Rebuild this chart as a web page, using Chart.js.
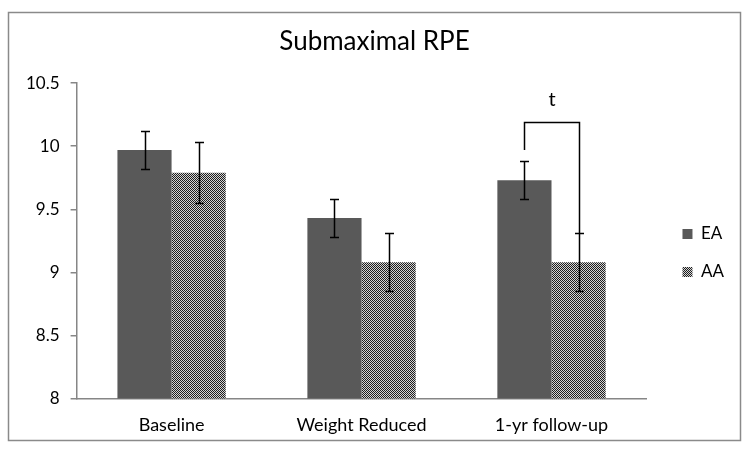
<!DOCTYPE html>
<html>
<head>
<meta charset="utf-8">
<script src="https://cdn.jsdelivr.net/npm/chart.js@4"></script>
<style>
  body { margin: 0; background: #fff; }
  #wrap { width: 749px; height: 455px; }
</style>
</head>
<body>
<div id="wrap"><canvas id="rpeChart" width="749" height="455"></canvas></div>
<script>
// data
const categories = ['Baseline', 'Weight Reduced', '1-yr follow-up'];
const seriesNames = ['EA', 'AA'];
const eaValues = [9.97, 9.43, 9.73];
const eaErrors = [0.15, 0.15, 0.15];
const aaValues = [9.79, 9.08, 9.08];
const aaErrors = [0.24, 0.23, 0.23];
const yTicks = [8, 8.5, 9, 9.5, 10, 10.5];

// bracket over the 1-yr follow-up pair
const bracketIndex = 2;
const bracketTop = 10.19;
const bracketLeftEnd = 9.97;
const bracketLabel = 't';

// checkered fill for AA
function makeChecker() {
  const pc = document.createElement('canvas');
  pc.width = 2; pc.height = 2;
  const c = pc.getContext('2d');
  c.fillStyle = '#d4d4d4';
  c.fillRect(0, 0, 2, 2);
  c.fillStyle = '#1e1e1e';
  c.fillRect(0, 0, 1, 1);
  c.fillRect(1, 1, 1, 1);
  return c.createPattern(pc, 'repeat');
}
const checker = makeChecker();

const FONT = "Lato, 'Open Sans', sans-serif";
const LEGEND_GAP = 15; // empty space between plot and legend
const LEGEND_DY = 18;  // legend sits a bit below the plot middle

const errorBars = {
  id: 'errorBars',
  afterDatasetsDraw(chart) {
    const { ctx, scales: { y } } = chart;
    const errs = [eaErrors, aaErrors];
    const vals = [eaValues, aaValues];
    ctx.save();
    ctx.strokeStyle = '#000';
    ctx.lineWidth = 1.5;
    chart.data.datasets.forEach((ds, di) => {
      const meta = chart.getDatasetMeta(di);
      meta.data.forEach((bar, i) => {
        const hi = Math.round(y.getPixelForValue(vals[di][i] + errs[di][i])) + 0.5;
        const lo = Math.round(y.getPixelForValue(vals[di][i] - errs[di][i])) + 0.5;
        const x = Math.round(bar.x) + 0.5;
        ctx.beginPath();
        ctx.moveTo(x, hi); ctx.lineTo(x, lo);
        ctx.moveTo(x - 4.5, hi); ctx.lineTo(x + 4.5, hi);
        ctx.moveTo(x - 4.5, lo); ctx.lineTo(x + 4.5, lo);
        ctx.stroke();
      });
    });
    ctx.restore();
  }
};

const bracket = {
  id: 'bracket',
  afterDatasetsDraw(chart) {
    const { ctx, scales: { y } } = chart;
    const x1 = Math.round(chart.getDatasetMeta(0).data[bracketIndex].x) + 0.5;
    const x2 = Math.round(chart.getDatasetMeta(1).data[bracketIndex].x) + 0.5;
    const top = Math.round(y.getPixelForValue(bracketTop)) + 0.5;
    const leftEnd = y.getPixelForValue(bracketLeftEnd);
    const rightEnd = y.getPixelForValue(aaValues[bracketIndex] + aaErrors[bracketIndex]);
    ctx.save();
    ctx.strokeStyle = '#000';
    ctx.lineWidth = 1.5;
    ctx.beginPath();
    ctx.moveTo(x1, leftEnd);
    ctx.lineTo(x1, top);
    ctx.lineTo(x2, top);
    ctx.lineTo(x2, rightEnd);
    ctx.stroke();
    ctx.fillStyle = '#000';
    ctx.font = '20px ' + FONT;
    ctx.textAlign = 'center';
    ctx.textBaseline = 'middle';
    ctx.fillText(bracketLabel, (x1 + x2) / 2, top - 23);
    ctx.restore();
  }
};

const frame = {
  id: 'frame',
  beforeDraw(chart) {
    const { ctx } = chart;
    ctx.save();
    ctx.fillStyle = '#fff';
    ctx.fillRect(0, 0, chart.width, chart.height);
    ctx.strokeStyle = '#8a8a8a';
    ctx.lineWidth = 1.5;
    ctx.strokeRect(8.5, 12.5, 732, 428);
    ctx.restore();
  }
};

// push the legend away from the plot, like the Excel layout
const legendGap = {
  id: 'legendGap',
  beforeInit(chart) {
    const fit = chart.legend.fit;
    chart.legend.fit = function () {
      fit.call(this);
      this.width += LEGEND_GAP;
    };
  },
  afterLayout(chart) {
    chart.legend.left += LEGEND_GAP;
    chart.legend.right += LEGEND_GAP;
    chart.legend.top += LEGEND_DY;
    chart.legend.bottom += LEGEND_DY;
  }
};

new Chart(document.getElementById('rpeChart').getContext('2d'), {
  type: 'bar',
  data: {
    labels: categories,
    datasets: [
      { label: seriesNames[0], data: eaValues, backgroundColor: '#595959', borderWidth: 0 },
      { label: seriesNames[1], data: aaValues, backgroundColor: checker, borderWidth: 0 }
    ]
  },
  options: {
    responsive: false,
    animation: false,
    events: [],
    categoryPercentage: 0.57,
    barPercentage: 1.0,
    layout: { padding: { top: 26, left: 15, right: 15, bottom: 11 } },
    plugins: {
      title: {
        display: true,
        text: 'Submaximal RPE',
        color: '#000',
        font: { family: FONT, size: 26, weight: 'normal' },
        padding: { top: 0, bottom: 26 }
      },
      legend: {
        position: 'right',
        align: 'center',
        labels: {
          color: '#000',
          font: { family: FONT, size: 17 },
          boxWidth: 10,
          boxHeight: 10,
          padding: 21
        }
      },
      tooltip: { enabled: false }
    },
    scales: {
      x: {
        grid: { display: false },
        border: { display: true, color: '#868686', width: 1.5 },
        ticks: { color: '#000', font: { family: FONT, size: 18 }, padding: 8 }
      },
      y: {
        min: 8,
        max: 10.5,
        afterBuildTicks: (axis) => { axis.ticks = yTicks.map(v => ({ value: v })); },
        grid: { display: true, drawOnChartArea: false, drawTicks: true, tickLength: 6, color: '#868686', lineWidth: 1.5 },
        border: { display: true, color: '#868686', width: 1.5 },
        ticks: { color: '#000', font: { family: FONT, size: 17 }, padding: 11, callback: (v) => String(v) }
      }
    }
  },
  plugins: [frame, legendGap, errorBars, bracket]
});
</script>
</body>
</html>
